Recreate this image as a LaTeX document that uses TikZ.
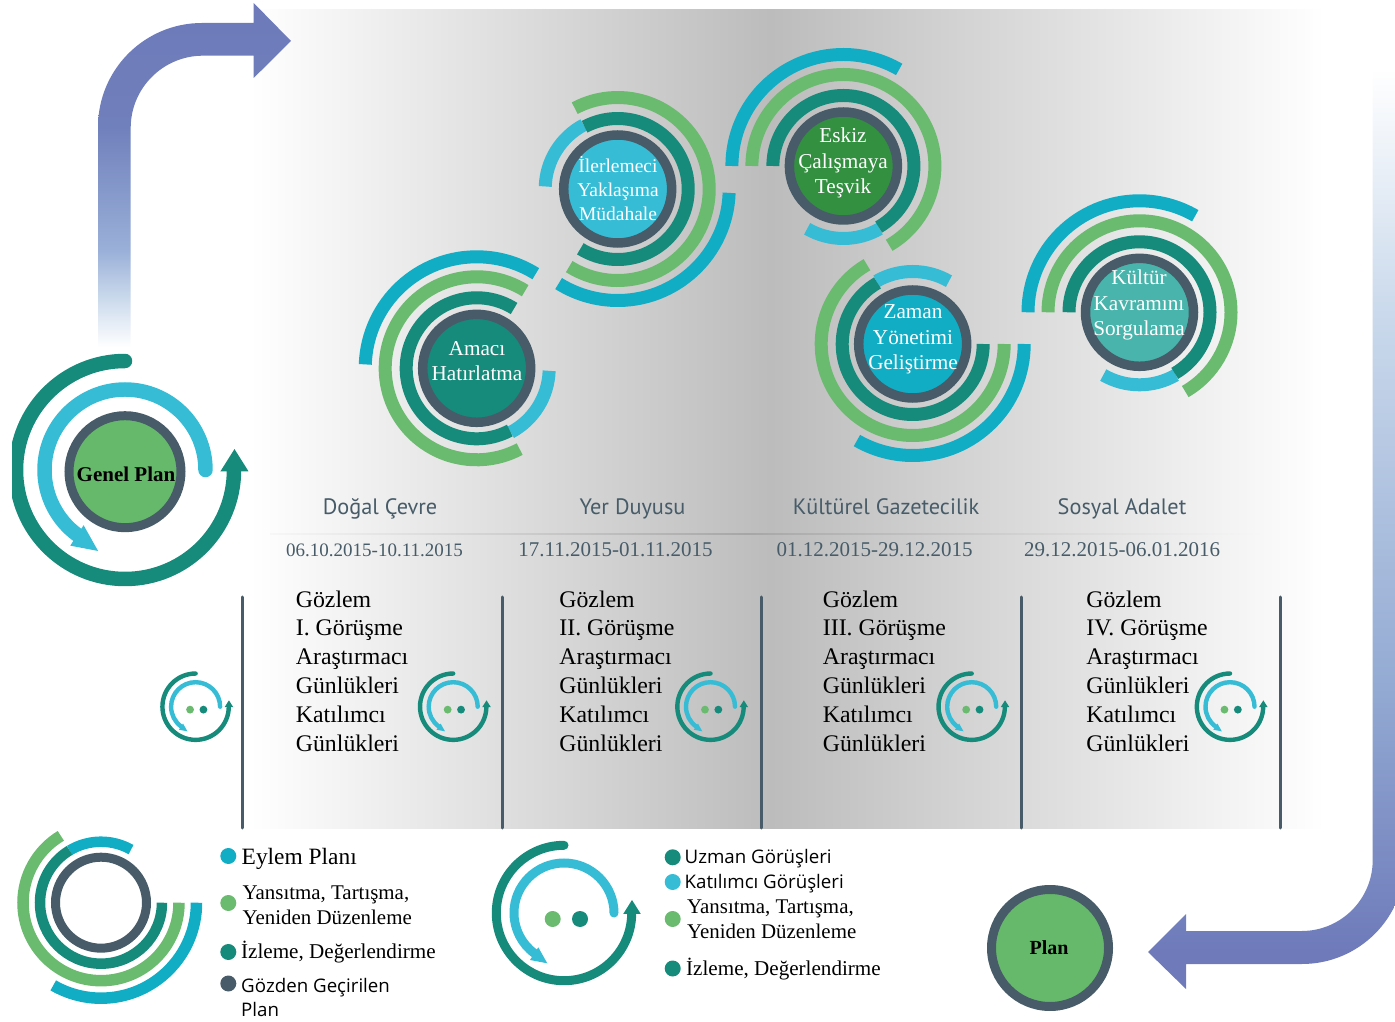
\documentclass[tikz,border=0pt]{standalone}
\usepackage{fontspec}
\setmainfont{Liberation Serif}
\newfontfamily\hfnt{PT Sans}
\newfontfamily\lfnt{Open Sans}
\definecolor{tealc}{HTML}{168A7B}
\definecolor{greenc}{HTML}{6ABB6F}
\definecolor{bluec}{HTML}{11ADC5}
\definecolor{lbluec}{HTML}{37BCD6}
\definecolor{darkc}{HTML}{475C68}
\definecolor{midgrey}{HTML}{BCBCBC}
\definecolor{lineend}{HTML}{F7F7F7}
\definecolor{linemid}{HTML}{A6A6A6}
\definecolor{eskizc}{HTML}{339040}
\definecolor{kulturc}{HTML}{48B4AB}
\definecolor{planc}{HTML}{66B96B}
\definecolor{arA}{HTML}{6E7ABA}
\definecolor{arB}{HTML}{7080BC}
\definecolor{arC}{HTML}{9AB0D8}
\definecolor{arD}{HTML}{CBDAEC}
\definecolor{arE}{HTML}{92A9D2}
\pgfdeclarehorizontalshading{bggrad}{100bp}{color(0bp)=(white); color(25bp)=(white); color(49.2bp)=(midgrey); color(75bp)=(white); color(100bp)=(white)}
\pgfdeclarehorizontalshading{linegrad}{100bp}{color(0bp)=(lineend); color(25bp)=(lineend); color(49bp)=(linemid); color(75bp)=(lineend); color(100bp)=(lineend)}
\pgfdeclareverticalshading{larrow}{100bp}{color(0bp)=(white); color(25bp)=(white); color(32bp)=(arD); color(39bp)=(arC); color(57bp)=(arB); color(75bp)=(arA); color(100bp)=(arA)}
\pgfdeclareverticalshading{rarrow}{100bp}{color(0bp)=(arA); color(27bp)=(arA); color(41bp)=(arE); color(62bp)=(arD); color(75bp)=(white); color(100bp)=(white)}
% colour, cx, cy, r, w, a1, a2
\newcommand{\ringarc}[7]{\draw[#1,line width=#5pt] ({#2+#4*cos(#6)},{1021-#3+#4*sin(#6)}) arc[start angle=#6,end angle=#7,radius=#4pt];}
% cx, cy, blue a1 a2, green/teal a1 a2, light a1 a2
\newcommand{\ringset}[8]{%
  \ringarc{bluec}{#1}{#2}{111.5}{13}{#3}{#4}
  \ringarc{greenc}{#1}{#2}{91.5}{13}{#5}{#6}
  \ringarc{lbluec}{#1}{#2}{72.5}{13}{#7}{#8}
  \ringarc{tealc}{#1}{#2}{70.5}{13}{#5}{#6}
}
% name, cx, cy, scale
\newcommand{\cycleicon}[4]{%
  \pgfmathsetmacro{\icS}{#4}
  \pgfmathsetmacro{\icO}{67.7*\icS}\pgfmathsetmacro{\icI}{50*\icS}\pgfmathsetmacro{\icW}{9*\icS}
  \draw[tealc,line width=\icW pt,line cap=round] ({#2},{1021-#3+\icO}) arc[start angle=90,end angle=360,radius=\icO pt];
  \fill[tealc] ({#2+(59.3*\icS)},{1021-#3-0.8*\icS}) -- ({#2+(76.7*\icS)},{1021-#3-0.8*\icS}) -- ({#2+(68*\icS)},{1021-#3+13*\icS}) -- cycle;
  \draw[lbluec,line width=\icW pt,line cap=round] ({#2+\icI},{1021-#3}) arc[start angle=0,end angle=234,radius=\icI pt];
  \fill[lbluec] ({#2-16.7*\icS},{1021-#3-50.3*\icS}) -- ({#2-25.7*\icS},{1021-#3-34.3*\icS}) -- ({#2-34*\icS},{1021-#3-47*\icS}) -- cycle;
}
\newcommand{\icondots}[4]{%
  \node[dotn,fill=greenc,minimum size={16*#4}] (#1g) at ({#2-11.3*#4},{1021-#3-6*#4}) {};
  \node[dotn,fill=tealc,minimum size={16*#4}] (#1t) at ({#2+16*#4},{1021-#3-6*#4}) {};
}
\tikzset{
  core/.style={circle,draw=darkc,line width=9.5pt,minimum size=108pt,inner sep=0pt},
  coretxt/.style={text=white,align=center,font=\fontsize{21.2}{25.3}\selectfont},
  listtxt/.style={text=black,align=left,anchor=west,inner sep=0pt,font=\fontsize{23.8}{28.8}\selectfont},
  headtxt/.style={text=darkc,anchor=base,font=\hfnt\fontsize{22.3}{26}\selectfont},
  datetxt/.style={text=darkc,font=\fontsize{21}{25}\selectfont},
  dotn/.style={circle,inner sep=0pt,minimum size=16pt},
  bar/.style={darkc,line width=3pt,line cap=round},
  legs/.style={anchor=west,align=left,inner sep=0pt,font=\fontsize{20.9}{25}\selectfont},
  legi/.style={anchor=west,inner sep=0pt,font=\fontsize{21.1}{25}\selectfont},
  legf/.style={anchor=west,align=left,inner sep=0pt,font=\lfnt\fontsize{18.7}{24}\selectfont},
}
\begin{document}
\begin{tikzpicture}[x=1pt,y=1pt]
\useasboundingbox (0,0) rectangle (1395,1021);
% background
\shade[shading=bggrad] (250,193) rectangle (1325,1011);
\shade[shading=linegrad] (270,486.6) rectangle (1262,487.8);
% big arrows
\shade[shading=larrow] (98,674) -- (98,894) arc[start angle=180,end angle=90,radius=104pt] -- (253.7,998) -- (253.7,1018) -- (291,980) -- (253.7,943) -- (253.7,965.3) -- (203,965.3) arc[start angle=90,end angle=180,radius=72.3pt] -- (130.7,674) -- cycle;
\begin{scope}
\clip (1100,0) rectangle (1395,1021);
\shade[shading=rarrow] (1372.7,953) -- (1372.7,161) arc[start angle=0,end angle=-90,radius=71pt] -- (1186,90) -- (1186,107) -- (1148,69) -- (1186,32) -- (1186,57) -- (1302,57) arc[start angle=-90,end angle=0,radius=103pt] -- (1405,953) -- cycle;
\end{scope}
% ring groups
\ringset{476.7}{368.3}{178}{58}{58}{298}{298}{358}
\node[core,fill=tealc] (c1) at (476.7,{1021-368.3}) {};
\node[coretxt] (t1) at (477,{1021-361}) {Amacı\\Hatırlatma};
\ringset{617.7}{189}{358}{238}{238}{478}{118}{178}
\node[core,fill=lbluec] (c2) at (617.7,{1021-189}) {};
\node[coretxt,font=\fontsize{19.5}{24}\selectfont] (t2) at (618,{1021-188.5}) {İlerlemeci\\Yaklaşıma\\Müdahale};
\ringset{843.4}{166}{180}{60}{180}{-60}{300}{240}
\node[core,fill=eskizc] (c3) at (843.4,{1021-166}) {};
\node[coretxt] (t3) at (843,{1021-163}) {Eskiz\\Çalışmaya\\Teşvik};
\ringset{912.7}{344}{360}{240}{360}{120}{120}{60}
\node[core,fill=bluec] (c4) at (912.7,{1021-344}) {};
\node[coretxt] (t4) at (913,{1021-339.5}) {Zaman\\Yönetimi\\Geliştirme};
\ringset{1139.5}{312.3}{180}{60}{180}{-60}{300}{240}
\node[core,fill=kulturc] (c5) at (1139.5,{1021-312.3}) {};
\node[coretxt] (t5) at (1139,{1021-305}) {Kültür\\Kavramını\\Sorgulama};
% genel plan
\begin{scope}
\clip (12,0) rectangle (270,1021);
\cycleicon{gp}{125}{470}{1.61}
\end{scope}
\node[circle,draw=darkc,line width=9pt,fill=planc,minimum size=112pt,inner sep=0pt] (gpc) at (125,{1021-471.7}) {};
\node[font=\bfseries\fontsize{21}{25}\selectfont] (gpt) at (126,{1021-474}) {Genel Plan};
% headers
\node[headtxt] (h1) at (380,{1021-515}) {Doğal Çevre};
\node[headtxt] (h2) at (632.5,{1021-515}) {Yer Duyusu};
\node[headtxt] (h3) at (886,{1021-515}) {Kültürel Gazetecilik};
\node[headtxt] (h4) at (1122,{1021-515}) {Sosyal Adalet};
\node[datetxt,font=\fontsize{19}{23}\selectfont] (d1) at (374.5,{1021-550}) {06.10.2015-10.11.2015};
\node[datetxt] (d2) at (615.5,{1021-550}) {17.11.2015-01.11.2015};
\node[datetxt] (d3) at (874.5,{1021-550}) {01.12.2015-29.12.2015};
\node[datetxt] (d4) at (1122,{1021-550}) {29.12.2015-06.01.2016};
% lists
\node[listtxt] (l1) at (295.7,{1021-671}) {Gözlem\\I. Görüşme\\Araştırmacı\\Günlükleri\\Katılımcı\\Günlükleri};
\node[listtxt] (l2) at (559.2,{1021-671}) {Gözlem\\II. Görüşme\\Araştırmacı\\Günlükleri\\Katılımcı\\Günlükleri};
\node[listtxt] (l3) at (822.7,{1021-671}) {Gözlem\\III. Görüşme\\Araştırmacı\\Günlükleri\\Katılımcı\\Günlükleri};
\node[listtxt] (l4) at (1086.2,{1021-671}) {Gözlem\\IV. Görüşme\\Araştırmacı\\Günlükleri\\Katılımcı\\Günlükleri};
% bars
\coordinate (b1a) at (242,{1021-597}); \coordinate (b1b) at (242,{1021-828});
\coordinate (b2a) at (502,{1021-597}); \coordinate (b2b) at (502,{1021-828});
\coordinate (b3a) at (761,{1021-597}); \coordinate (b3b) at (761,{1021-828});
\coordinate (b4a) at (1021,{1021-597}); \coordinate (b4b) at (1021,{1021-828});
\coordinate (b5a) at (1280,{1021-597}); \coordinate (b5b) at (1280,{1021-828});
\draw[bar] (b1a) -- (b1b);
\draw[bar] (b2a) -- (b2b);
\draw[bar] (b3a) -- (b3b);
\draw[bar] (b4a) -- (b4b);
\draw[bar] (b5a) -- (b5b);
% small icons
\cycleicon{s1}{195.6}{706.7}{0.49}\icondots{s1}{195.6}{706.7}{0.49}
\cycleicon{s2}{453.2}{706.7}{0.49}\icondots{s2}{453.2}{706.7}{0.49}
\cycleicon{s3}{710.5}{706.7}{0.49}\icondots{s3}{710.5}{706.7}{0.49}
\cycleicon{s4}{971.7}{706.7}{0.49}\icondots{s4}{971.7}{706.7}{0.49}
\cycleicon{s5}{1230}{706.7}{0.49}\icondots{s5}{1230}{706.7}{0.49}
% left legend ring
\ringarc{bluec}{101}{902.7}{95.5}{11.5}{0}{-120}
\ringarc{greenc}{101}{902.7}{78}{11.5}{0}{-239}
\ringarc{bluec}{101}{902.7}{61}{10.5}{121}{60.5}
\ringarc{tealc}{101}{902.7}{61}{10.5}{0}{-239}
\node[circle,draw=darkc,line width=9pt,minimum size=91pt,inner sep=0pt] (lr) at (101,{1021-902.7}) {};
\node[dotn,fill=bluec] (ld1) at (228.3,{1021-856}) {};
\node[dotn,fill=greenc] (ld2) at (228.3,{1021-903}) {};
\node[dotn,fill=tealc] (ld3) at (228.3,{1021-952}) {};
\node[dotn,fill=darkc] (ld4) at (228.3,{1021-983.5}) {};
\node[legi,font=\fontsize{23.4}{25}\selectfont] (lt1) at (241.5,{1021-858.5}) {Eylem Planı};
\node[legs] (lt2) at (242.5,{1021-905.5}) {Yansıtma, Tartışma,\\Yeniden Düzenleme};
\node[legi] (lt3) at (241,{1021-952.5}) {İzleme, Değerlendirme};
\node[legf] (lt4) at (241,{1021-997}) {Gözden Geçirilen\\Plan};
% middle legend
\cycleicon{mi}{564}{913}{1}\icondots{mi}{564}{913}{1}
\node[dotn,fill=tealc] (md1) at (672.7,{1021-857.3}) {};
\node[dotn,fill=lbluec] (md2) at (672.7,{1021-882}) {};
\node[dotn,fill=greenc] (md3) at (672.7,{1021-919}) {};
\node[dotn,fill=tealc] (md4) at (672.7,{1021-968.5}) {};
\node[legf] (mt1) at (684.5,{1021-859}) {Uzman Görüşleri};
\node[legf] (mt2) at (684.5,{1021-884}) {Katılımcı Görüşleri};
\node[legs] (mt3) at (687,{1021-919.5}) {Yansıtma, Tartışma,\\Yeniden Düzenleme};
\node[legi] (mt4) at (686,{1021-969}) {İzleme, Değerlendirme};
% plan
\node[circle,draw=darkc,line width=9pt,fill=planc,minimum size=117pt,inner sep=0pt] (pc) at (1050,{1021-948}) {};
\node[font=\bfseries\fontsize{20}{24}\selectfont] (pt) at (1049,{1021-948}) {Plan};
\end{tikzpicture}
\end{document}
